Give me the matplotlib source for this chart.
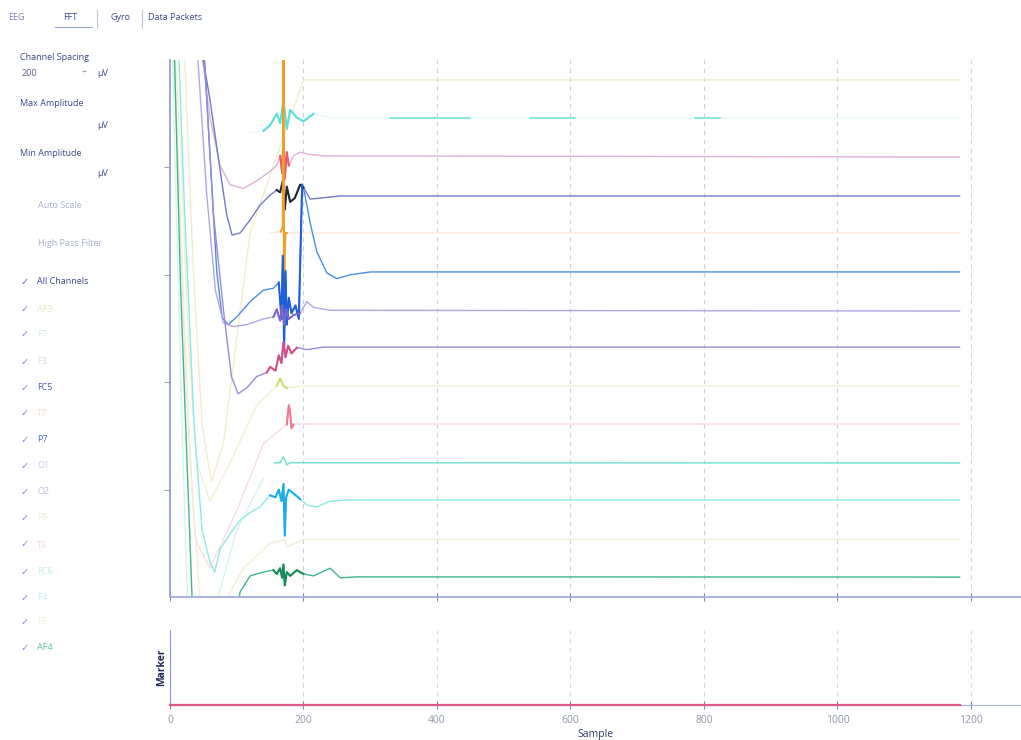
import matplotlib
matplotlib.use("Agg")
import matplotlib.pyplot as plt

plt.rcParams['font.family'] = ['Open Sans', 'DejaVu Sans']

# ---------------- data ----------------
channel_names = ["AF3", "F7", "F3", "FC5", "T7", "P7", "O1", "O2",
                 "P8", "T8", "FC6", "F4", "F8", "AF4"]
channel_offsets = [2700, 2500, 2300, 2100, 1900, 1700, 1500, 1300,
                   1100, 900, 700, 500, 300, 100]
channel_colors = ["#f6f1d6", "#e8f9f8", "#dcb2dc", "#6f7cc4", "#fcebd6", "#4a8ce6",
                  "#b3a6e6", "#9c8ad6", "#f4f7e0", "#fce8ec", "#6fdccd", "#8fe9e2",
                  "#f8f5e0", "#3fb68e"]
early_colors = ["#f3eccc", None, None, None, None, None, None, None,
                "#eef3d0", "#f8dde2", "#d6f3ef", None, "#f4efd2", None]
early_until = [2000, 0, 0, 0, 0, 0, 0, 0, 2000, 2000, 150, 0, 2000, 0]
burst_colors = [None, "#58e0dc", "#f05a6e", "#202838", "#f0a020", "#1f5fd8",
                "#7a68d0", "#d0508c", "#c8e070", "#f07890", None, "#18ace8",
                None, "#168a5a"]

af3_x = [0, 22, 35, 48, 62, 80, 120, 200, 1183]
af3_y = [3300, 2800, 1700, 900, 600, 800, 1900, 2696, 2696]

f7_x = [120, 140, 150, 160, 165, 170, 175, 180, 190, 200, 215, 240, 1183]
f7_y = [2420, 2430, 2460, 2520, 2470, 2590, 2440, 2540, 2500, 2480, 2520, 2498, 2498]
f7_seg_x = [330, 450, 540, 607, 787, 824]   # start/end of visible segments

f3_x = [45, 60, 75, 90, 110, 130, 150, 160, 165, 168, 170, 172, 175, 178, 185, 195, 205, 230, 1183]
f3_y = [2900, 2500, 2250, 2150, 2130, 2170, 2220, 2250, 2300, 2210, 2390, 2180, 2320, 2250,
        2300, 2320, 2310, 2300, 2294]

fc5_x = [45, 60, 75, 85, 93, 105, 120, 135, 150, 160, 165, 169, 172, 175, 180, 187, 195, 200,
         210, 225, 255, 1183]
fc5_y = [2900, 2591, 2226, 1992, 1887, 1898, 1966, 2044, 2096, 2122, 2110, 2170, 2020, 2140,
         2060, 2080, 2150, 2135, 2075, 2080, 2091, 2091]

t7_x = [150, 166, 169, 170, 171, 172, 173, 175, 1183]
t7_y = [1898, 1905, 1930, 3000, 1400, 1800, 1900, 1898, 1898]

p7_x = [50, 60, 70, 78, 87, 100, 120, 140, 155, 163, 167, 169, 171, 173, 175, 178, 182, 188,
        193, 198, 202, 210, 220, 235, 250, 270, 300, 1183]
p7_y = [2900, 2300, 1700, 1460, 1420, 1460, 1540, 1600, 1610, 1640, 1450, 1780, 1300, 1700,
        1420, 1560, 1480, 1520, 1450, 2150, 2100, 1950, 1800, 1690, 1660, 1680, 1695, 1695]

o1_x = [40, 55, 68, 80, 95, 115, 140, 155, 160, 165, 168, 171, 174, 178, 185, 195, 205, 215,
        240, 1183]
o1_y = [2900, 2100, 1600, 1430, 1410, 1420, 1450, 1460, 1500, 1440, 1520, 1420, 1500, 1450,
        1470, 1480, 1540, 1510, 1495, 1491]

o2_x = [50, 65, 80, 92, 102, 115, 130, 145, 150, 158, 163, 167, 170, 173, 177, 182, 190, 205,
        230, 1183]
o2_y = [2900, 2000, 1500, 1150, 1060, 1090, 1150, 1170, 1200, 1180, 1260, 1220, 1330, 1250,
        1310, 1270, 1300, 1290, 1303, 1303]

p8_x = [0, 15, 28, 40, 60, 90, 130, 160, 165, 170, 175, 200, 1183]
p8_y = [3300, 2400, 1300, 700, 500, 700, 1000, 1100, 1140, 1100, 1090, 1100, 1100]

t8_x = [0, 12, 24, 38, 60, 100, 140, 175, 178, 180, 182, 185, 200, 1183]
t8_y = [3300, 2300, 1100, 300, 150, 450, 800, 900, 1000, 960, 880, 900, 902, 902]

fc6_x = [0, 8, 18, 26, 35, 60, 100, 140, 157, 165, 170, 175, 180, 1183]
fc6_y = [3300, 2200, 900, 0, -300, -150, 350, 620, 699, 700, 730, 690, 700, 699]

f4_x = [8, 22, 36, 48, 60, 67, 75, 90, 105, 120, 135, 150, 158, 163, 167, 170, 172, 174,
        178, 185, 195, 205, 220, 240, 270, 1183]
f4_y = [3300, 2000, 900, 350, 180, 130, 250, 330, 400, 440, 470, 530, 520, 560, 500, 590,
        320, 520, 560, 540, 510, 480, 470, 500, 506, 506]

f8_x = [0, 14, 30, 45, 70, 110, 150, 172, 175, 200, 1183]
f8_y = [3300, 2100, 700, 0, -100, 150, 280, 300, 260, 300, 300]

af4_x = [3, 16, 33, 45, 90, 105, 120, 140, 155, 160, 165, 168, 170, 172, 175, 180, 190, 200,
         215, 240, 255, 280, 1183]
af4_y = [3300, 1600, 0, -500, -300, 26, 110, 130, 140, 120, 150, 100, 170, 60, 130, 110, 140,
         120, 110, 150, 100, 105, 104]

channel_x = [af3_x, f7_x, f3_x, fc5_x, t7_x, p7_x, o1_x, o2_x, p8_x, t8_x, fc6_x, f4_x, f8_x, af4_x]
channel_y = [af3_y, f7_y, f3_y, fc5_y, t7_y, p7_y, o1_y, o2_y, p8_y, t8_y, fc6_y, f4_y, f8_y, af4_y]
burst_range = [None, (140, 215), (163, 182), (160, 205), (166, 175), (160, 200),
               (150, 200), (145, 190), (160, 175), (175, 186), None, (150, 200), None, (155, 200)]

marker_x = [0, 1183]
marker_y = [0, 0]

x_ticks = [0, 200, 400, 600, 800, 1000, 1200]
y_ticks = [558, 1121, 1679, 2242]

# ---------------- figure ----------------
W, H = 1021, 740
fig = plt.figure(figsize=(W / 100, H / 100), dpi=100)
fig.patch.set_facecolor("white")

def fx(px):
    return px / W

def fy(py):
    return 1 - py / H

ax = fig.add_axes([fx(170), fy(597), fx(851), 537 / H])
ax.set_xlim(0, 1275)
ax.set_ylim(0, 2800)

for gx in x_ticks[1:]:
    ax.axvline(gx, color="#cdd0da", lw=0.8, ls=(0, (4, 4)), zorder=0)

def subset(xs, ys, lo, hi):
    bx = [x for x in xs if lo <= x <= hi]
    by = [y for x, y in zip(xs, ys) if lo <= x <= hi]
    return bx, by

for i in range(len(channel_names)):
    xs, ys = channel_x[i], channel_y[i]
    cut = early_until[i]
    if early_colors[i] is not None and cut > 0:
        ex, ey = subset(xs, ys, -1e9, cut)
        ax.plot(ex, ey, color=early_colors[i], lw=1.0, zorder=1)
        lx, ly = subset(xs, ys, cut, 1e9)
        if len(lx) > 1:
            ax.plot(lx, ly, color=channel_colors[i], lw=1.0, zorder=2)
    else:
        ax.plot(xs, ys, color=channel_colors[i], lw=1.0, zorder=2, solid_joinstyle="round")
    if burst_range[i] is not None:
        lo, hi = burst_range[i]
        bx, by = subset(xs, ys, lo, hi)
        ax.plot(bx, by, color=burst_colors[i], lw=1.5, zorder=3)

# visible F7 segments
for k in range(0, len(f7_seg_x), 2):
    ax.plot([f7_seg_x[k], f7_seg_x[k + 1]], [channel_offsets[1], channel_offsets[1]],
            color="#7fe6df", lw=1.3, zorder=3)

for s in ["top", "right"]:
    ax.spines[s].set_visible(False)
ax.spines["left"].set_color("#8a96d8")
ax.spines["bottom"].set_color("#a6b0e4")
ax.spines["left"].set_linewidth(1.2)
ax.spines["bottom"].set_linewidth(1.4)
ax.set_xticks(x_ticks)
ax.set_xticklabels([])
ax.set_yticks(y_ticks)
ax.set_yticklabels([])
ax.tick_params(axis="x", direction="inout", length=6, color="#7f86b0")
ax.tick_params(axis="y", direction="out", length=4, color="#9aa0c8")

# ---------------- marker axes ----------------
ax2 = fig.add_axes([fx(170), fy(705), fx(851), 75 / H])
ax2.set_xlim(0, 1275)
ax2.set_ylim(0, 1)
ax2.plot(marker_x, marker_y, color="#e0588a", lw=1.6, clip_on=False, zorder=3)
for gx in x_ticks[1:]:
    ax2.axvline(gx, color="#d6d8e0", lw=0.8, ls=(0, (4, 4)), zorder=0)
for s in ["top", "right"]:
    ax2.spines[s].set_visible(False)
ax2.spines["left"].set_color("#8a96d8")
ax2.spines["bottom"].set_color("#a6b0e4")
ax2.set_yticks([])
ax2.set_xticks(x_ticks)
ax2.set_xticklabels([str(v) for v in x_ticks], fontsize=7.5, color="#9098b0")
ax2.tick_params(axis="x", direction="inout", length=6, color="#7f86b0", pad=4)
ax2.set_xlabel("Sample", fontsize=7.5, color="#2a3a6a", labelpad=2)
ax2.set_ylabel("Marker", fontsize=7.5, color="#1e2a5a", fontweight="bold", labelpad=2)

# ---------------- left control panel ----------------
navy = "#3a4a8a"
faint = "#aab2cc"
fig.text(fx(8), fy(18), "EEG", fontsize=6.5, color="#7a84a8", va="center")
fig.text(fx(63), fy(18), "FFT", fontsize=6.5, color=navy, va="center")
fig.text(fx(110), fy(18), "Gyro", fontsize=6.5, color=navy, va="center")
fig.text(fx(148), fy(18), "Data Packets", fontsize=6.5, color=navy, va="center")
fig.add_artist(plt.Line2D([fx(55), fx(92)], [fy(27), fy(27)], color="#9aa4c8", lw=0.8))
for sx in [97, 142]:
    fig.add_artist(plt.Line2D([fx(sx), fx(sx)], [fy(10), fy(28)], color="#c0c6dc", lw=0.8))

fig.text(fx(20), fy(57), "Channel Spacing", fontsize=6.5, color=navy, va="center")
fig.text(fx(22), fy(73), "200", fontsize=6.5, color="#55608a", va="center")
fig.text(fx(82), fy(73), "÷", fontsize=6.5, color="#8890b0", va="center")
fig.text(fx(97), fy(73), "µV", fontsize=6.5, color=navy, va="center")
fig.text(fx(20), fy(103), "Max Amplitude", fontsize=6.5, color=navy, va="center")
fig.text(fx(97), fy(125), "µV", fontsize=6.5, color=navy, va="center")
fig.text(fx(20), fy(153), "Min Amplitude", fontsize=6.5, color=navy, va="center")
fig.text(fx(97), fy(173), "µV", fontsize=6.5, color=navy, va="center")
fig.text(fx(38), fy(205), "Auto Scale", fontsize=6.5, color=faint, va="center")
fig.text(fx(38), fy(244), "High Pass Filter", fontsize=6.5, color=faint, va="center")
fig.text(fx(21), fy(282), "✓", fontsize=7, color="#5a6ac8", va="center")
fig.text(fx(37), fy(282), "All Channels", fontsize=6.5, color=navy, va="center")

label_colors = ["#ece6c4", "#d0f0ee", "#e6d2e6", "#5060a8", "#f2dcc2", "#3a6ad0",
                "#d0c8ee", "#c8bce8", "#eceed0", "#f2d6dc", "#c0eee6", "#c2eeee",
                "#f2eed6", "#58c898"]
row_y = [310, 335, 362, 388, 414, 440, 466, 492, 518, 545, 572, 598, 622, 648]
for i, name in enumerate(channel_names):
    fig.text(fx(21), fy(row_y[i]), "✓", fontsize=7, color="#7a88d0", va="center")
    fig.text(fx(37), fy(row_y[i]), name, fontsize=6.5, color=label_colors[i], va="center")

fig.savefig("out.png", dpi=100, facecolor="white")
